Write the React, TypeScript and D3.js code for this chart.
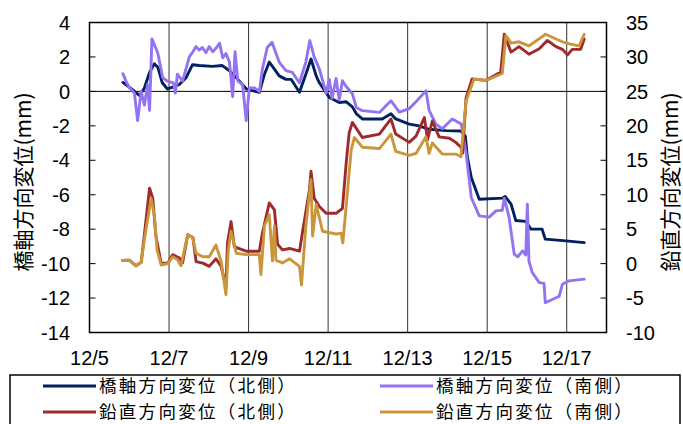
import React from 'react';
import * as d3 from 'd3';

const W = 683;
const H = 424;
const PL = 89.5, PR = 606.5, PT = 22.5, PB = 332.5;

const dayTicks = [5, 7, 9, 11, 13, 15, 17];
const leftTicks = [4, 2, 0, -2, -4, -6, -8, -10, -12, -14];
const rightTicks = [35, 30, 25, 20, 15, 10, 5, 0, -5, -10];

// [day of December, mm]
const axialNorth: [number, number][] = [
  [5.84, 0.52], [6.08, 0.1], [6.26, -0.25], [6.38, 0.2], [6.51, 1.1], [6.63, 1.6], [6.72, 1.4],
  [6.83, 0.5], [6.96, 0.14], [7.09, 0.25], [7.26, 0.4], [7.43, 0.8], [7.59, 1.55], [7.76, 1.5],
  [8.09, 1.45], [8.34, 1.5], [8.52, 1.2], [8.69, 0.8], [8.94, 0.15], [9.1, 0.05], [9.27, -0.05],
  [9.4, 1.0], [9.52, 1.7], [9.6, 1.45], [9.77, 0.9], [9.94, 0.7], [10.07, 0.7], [10.28, -0.05],
  [10.44, 1.0], [10.57, 1.88], [10.7, 0.9], [10.78, 0.5], [11.03, -0.35], [11.28, -0.65],
  [11.45, -0.6], [11.61, -0.9], [11.71, -1.3], [11.86, -1.6], [12.36, -1.6], [12.58, -1.3],
  [12.7, -1.6], [13.04, -1.9], [13.29, -2.0], [13.54, -2.2], [13.96, -2.28], [14.34, -2.3],
  [14.45, -2.6], [14.5, -3.8], [14.6, -5.0], [14.8, -6.26], [15.38, -6.2], [15.45, -6.1],
  [15.6, -6.55], [15.72, -7.5], [15.97, -7.55], [16.1, -8.0], [16.38, -8.0], [16.46, -8.58],
  [16.98, -8.68], [17.44, -8.78],
];

const axialSouth: [number, number][] = [
  [5.84, 1.03], [5.92, 0.58], [6.0, 0.23], [6.13, -0.1], [6.21, -1.7], [6.3, 0.0], [6.38, -0.8],
  [6.46, 0.4], [6.51, -1.1], [6.57, 3.05], [6.67, 2.5], [6.72, 2.2], [6.84, 0.8], [6.96, 0.6],
  [7.11, 0.5], [7.16, -0.1], [7.21, 1.0], [7.34, 0.6], [7.51, 2.0], [7.6, 2.3], [7.68, 2.6],
  [7.76, 2.4], [7.84, 2.55], [7.93, 2.25], [8.01, 2.6], [8.1, 2.3], [8.18, 2.5], [8.27, 2.8],
  [8.35, 1.95], [8.43, 2.2], [8.52, 1.7], [8.6, -0.3], [8.66, 2.3], [8.73, 0.6], [8.85, 0.4],
  [8.94, -1.7], [9.02, 0.2], [9.15, 0.2], [9.27, 0.0], [9.35, 1.32], [9.47, 2.55], [9.59, 2.85],
  [9.69, 2.2], [9.77, 1.7], [9.94, 1.2], [10.1, 1.1], [10.28, 0.5], [10.44, 1.7], [10.54, 2.95],
  [10.65, 2.0], [10.78, 1.3], [10.95, -0.1], [11.03, 0.7], [11.1, -0.4], [11.2, 0.75],
  [11.28, -0.5], [11.36, 0.62], [11.45, 0.3], [11.61, -0.14], [11.71, -0.93], [11.86, -1.12],
  [12.29, -1.22], [12.58, -0.54], [12.79, -1.2], [13.04, -1.0], [13.21, -0.6], [13.46, 0.04],
  [13.54, -1.1], [13.71, -1.9], [13.87, -2.17], [14.12, -1.6], [14.35, -1.9], [14.47, -3.6],
  [14.6, -6.16], [14.8, -7.23], [15.05, -7.3], [15.22, -6.94], [15.38, -6.9], [15.43, -6.2],
  [15.55, -7.3], [15.68, -9.46], [15.77, -9.6], [15.89, -9.26], [15.97, -9.5], [16.01, -6.55],
  [16.05, -9.85], [16.13, -10.5], [16.31, -11.1], [16.43, -11.15], [16.46, -12.27],
  [16.73, -11.98], [16.81, -11.9], [16.89, -11.2], [17.06, -11.0], [17.44, -10.9],
];

const verticalNorth: [number, number][] = [
  [5.83, 0.45], [6.0, 0.5], [6.17, -0.32], [6.3, 0.2], [6.38, 4.2], [6.51, 10.95], [6.59, 9.5],
  [6.67, 4.0], [6.8, 0.07], [6.97, 0.1], [7.09, 1.3], [7.26, 0.8], [7.34, 0.1], [7.47, 4.2],
  [7.6, 3.8], [7.68, 0.3], [7.85, 0.07], [8.01, -0.4], [8.18, 0.7], [8.31, -0.4], [8.43, -3.3],
  [8.47, 3.0], [8.56, 6.1], [8.64, 2.5], [8.73, 2.25], [8.94, 1.8], [9.27, 1.8], [9.35, 4.5],
  [9.52, 8.8], [9.65, 7.8], [9.73, 2.8], [9.85, 2.0], [10.03, 2.2], [10.28, 1.8], [10.36, 4.7],
  [10.53, 10.7], [10.57, 13.4], [10.65, 9.5], [10.78, 8.3], [10.95, 7.3], [11.2, 7.3],
  [11.36, 8.0], [11.46, 15.0], [11.53, 19.0], [11.61, 20.5], [11.86, 18.3], [12.29, 18.8],
  [12.58, 21.0], [12.7, 18.8], [13.04, 17.6], [13.21, 18.5], [13.42, 21.2], [13.5, 18.0],
  [13.62, 20.7], [13.79, 18.4], [14.05, 18.2], [14.21, 17.6], [14.34, 16.9], [14.38, 16.0],
  [14.47, 24.1], [14.62, 26.8], [14.97, 26.6], [15.34, 27.8], [15.43, 33.3], [15.6, 30.7],
  [15.8, 31.5], [16.05, 30.4], [16.31, 31.2], [16.51, 32.4], [16.73, 31.5], [16.89, 31.1],
  [17.02, 30.3], [17.14, 31.1], [17.35, 31.1], [17.44, 32.6],
];

const verticalSouth: [number, number][] = [
  [5.83, 0.45], [6.0, 0.5], [6.17, -0.32], [6.3, 0.2], [6.38, 3.5], [6.55, 9.5], [6.63, 7.0],
  [6.7, 2.0], [6.8, -0.2], [6.97, 0.0], [7.09, 1.0], [7.21, 0.6], [7.3, -0.3], [7.47, 4.2],
  [7.59, 3.8], [7.68, 1.5], [7.85, 1.0], [8.01, 1.0], [8.18, 2.7], [8.31, 0.3], [8.43, -4.5],
  [8.49, 2.0], [8.56, 4.7], [8.69, 1.5], [8.94, 1.3], [9.27, 1.3], [9.31, -1.6], [9.4, 5.5],
  [9.52, 7.1], [9.6, 0.4], [9.65, 5.5], [9.69, 0.5], [9.85, 0.1], [10.03, 0.7], [10.28, -0.4],
  [10.33, -3.1], [10.44, 5.5], [10.57, 12.2], [10.61, 4.0], [10.7, 8.6], [10.86, 4.7],
  [11.2, 4.3], [11.33, 4.4], [11.37, 3.0], [11.48, 10.0], [11.58, 16.5], [11.66, 18.3],
  [11.86, 16.9], [12.29, 16.7], [12.58, 18.8], [12.7, 16.3], [13.04, 15.7], [13.21, 16.0],
  [13.46, 18.4], [13.54, 16.0], [13.62, 17.5], [13.87, 15.9], [14.21, 15.9], [14.34, 15.5],
  [14.47, 23.6], [14.67, 26.8], [14.97, 26.6], [15.38, 27.6], [15.47, 33.1], [15.6, 32.0],
  [15.8, 32.2], [16.05, 31.6], [16.47, 33.3], [16.73, 32.6], [16.89, 32.2], [17.14, 31.8],
  [17.31, 31.6], [17.44, 33.3],
];

const legendLabels = ['橋軸方向変位（北側）', '橋軸方向変位（南側）', '鉛直方向変位（北側）', '鉛直方向変位（南側）'];
const colors = ['#00205F', '#9473F2', '#A0292B', '#C9963B'];

const latin = '"Liberation Sans", Arial, sans-serif';
const cjk = '"Noto Sans CJK JP", "Noto Sans CJK SC", sans-serif';

export default function App() {
  const x = d3.scaleLinear().domain([5, 18]).range([PL, PR]);
  const yL = d3.scaleLinear().domain([-14, 4]).range([PB, PT]);
  const yR = d3.scaleLinear().domain([-10, 35]).range([PB, PT]);

  const lineL = d3.line<[number, number]>().x(d => x(d[0])).y(d => yL(d[1]));
  const lineR = d3.line<[number, number]>().x(d => x(d[0])).y(d => yR(d[1]));

  const series = [
    { d: lineL(axialNorth), c: colors[0] },
    { d: lineL(axialSouth), c: colors[1] },
    { d: lineR(verticalNorth), c: colors[2] },
    { d: lineR(verticalSouth), c: colors[3] },
  ];

  const legendPos = [
    { lx: 43, tx: 99, y: 386 },
    { lx: 380, tx: 436, y: 386 },
    { lx: 43, tx: 99, y: 412 },
    { lx: 380, tx: 436, y: 412 },
  ];

  return (
    <svg width={W} height={H} style={{ position: 'absolute', left: 0, top: 0, background: '#fff' }}>
      <rect x={0} y={0} width={W} height={H} fill="#fff" />
      {dayTicks.slice(1).map(t => (
        <line key={'g' + t} x1={x(t)} x2={x(t)} y1={PT} y2={PB} stroke="#333" strokeWidth={1} />
      ))}
      <line x1={PL} x2={PR} y1={yL(0)} y2={yL(0)} stroke="#000" strokeWidth={1} />
      {leftTicks.map(t => (
        <g key={'l' + t}>
          <line x1={PL} x2={PL + 6} y1={yL(t)} y2={yL(t)} stroke="#000" strokeWidth={1} />
          <text x={70} y={yL(t)} dy="0.36em" textAnchor="end" fontFamily={latin} fontSize={20}>{t}</text>
        </g>
      ))}
      {rightTicks.map(t => (
        <g key={'r' + t}>
          <line x1={PR - 6} x2={PR} y1={yR(t)} y2={yR(t)} stroke="#000" strokeWidth={1} />
          <text x={626} y={yR(t)} dy="0.36em" textAnchor="start" fontFamily={latin} fontSize={20}>{t}</text>
        </g>
      ))}
      {dayTicks.map(t => (
        <text key={'x' + t} x={x(t)} y={365} textAnchor="middle" fontFamily={latin} fontSize={20}>{`12/${t}`}</text>
      ))}
      {series.map((s, i) => (
        <path key={'s' + i} d={s.d || ''} fill="none" stroke={s.c} strokeWidth={2.9} strokeLinejoin="round" strokeLinecap="round" />
      ))}
      <rect x={PL} y={PT} width={PR - PL} height={PB - PT} fill="none" stroke="#000" strokeWidth={1.5} />
      <text transform={`translate(24,182) rotate(-90)`} textAnchor="middle" dy="0.35em" fontFamily={cjk} fontSize={21}>橋軸方向変位(mm)</text>
      <text transform={`translate(671,182) rotate(-90)`} textAnchor="middle" dy="0.35em" fontFamily={cjk} fontSize={21}>鉛直方向変位(mm)</text>
      <rect x={10} y={375} width={670} height={60} fill="#fff" stroke="#000" strokeWidth={1.5} />
      {legendLabels.map((lab, i) => (
        <g key={'lg' + i}>
          <line x1={legendPos[i].lx} x2={legendPos[i].lx + 53} y1={legendPos[i].y} y2={legendPos[i].y} stroke={colors[i]} strokeWidth={3} />
          <text x={legendPos[i].tx} y={legendPos[i].y} dy="0.36em" fontFamily={cjk} fontSize={17.5} letterSpacing={2.3}>{lab}</text>
        </g>
      ))}
    </svg>
  );
}
